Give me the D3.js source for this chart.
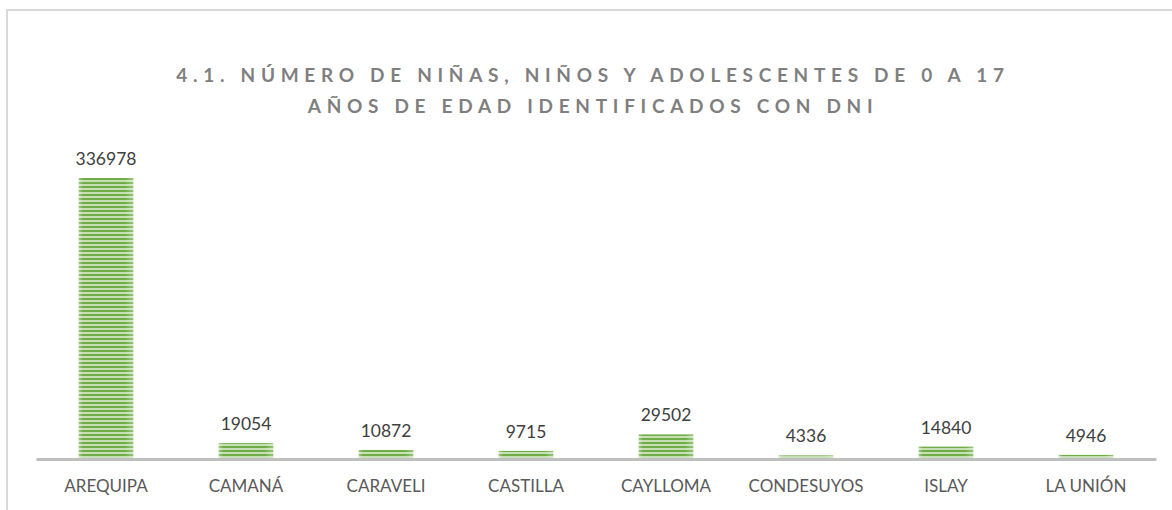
<!DOCTYPE html>
<html>
<head>
<meta charset="utf-8">
<script src="https://cdn.jsdelivr.net/npm/d3@7"></script>
<style>
  body { margin: 0; background: #fff; }
  svg { display: block; }
</style>
</head>
<body>
<svg id="chart" width="1172" height="510"></svg>
<script>
// Chart data
const provinces = ["AREQUIPA", "CAMANÁ", "CARAVELI", "CASTILLA", "CAYLLOMA", "CONDESUYOS", "ISLAY", "LA UNIÓN"];
const counts = [336978, 19054, 10872, 9715, 29502, 4336, 14840, 4946];
const titleLines = ["4.1. NÚMERO DE NIÑAS, NIÑOS Y ADOLESCENTES DE 0 A 17", "AÑOS DE EDAD IDENTIFICADOS CON DNI"];

const svg = d3.select("#chart");
const font = "Lato, 'Open Sans', sans-serif";

// Outer chart frame (right side runs off the page)
svg.append("rect")
  .attr("x", 7).attr("y", 10)
  .attr("width", 1180).attr("height", 520)
  .attr("fill", "#fff")
  .attr("stroke", "#d9d9d9")
  .attr("stroke-width", 2);

// Striped fill pattern for the bars
const defs = svg.append("defs");
const pat = defs.append("pattern")
  .attr("id", "stripes")
  .attr("patternUnits", "userSpaceOnUse")
  .attr("width", 8).attr("height", 4);
pat.append("rect").attr("width", 8).attr("height", 4).attr("fill", "#c5e0b4");
pat.append("rect").attr("y", 2).attr("width", 8).attr("height", 2).attr("fill", "#70ad47");

const edge = defs.append("linearGradient").attr("id", "edges");
[[0, 0.35], [0.08, 0], [0.85, 0], [1, 0.3]].forEach(([o, a]) =>
  edge.append("stop").attr("offset", o).attr("stop-color", "#fff").attr("stop-opacity", a));

// Scales
const x = d3.scaleBand()
  .domain(provinces)
  .range([36, 1156])
  .paddingInner(0.61)
  .paddingOuter(0.305);

const y = d3.scaleLinear()
  .domain([0, 400000])
  .range([459, 459 - 281 * 400000 / 336978]);

// Title
svg.append("text")
  .attr("text-anchor", "middle")
  .attr("fill", "#7f7f7f")
  .style("font-family", font)
  .style("font-size", "19px")
  .style("font-weight", "bold")
  .style("letter-spacing", "5.7px")
  .selectAll("tspan")
  .data(titleLines)
  .join("tspan")
  .attr("x", 593)
  .attr("y", (d, i) => 82 + i * 31)
  .text(d => d);

// Bars
const bars = svg.append("g");
provinces.forEach((p, i) => {
  const top = y(counts[i]);
  bars.append("rect")
    .attr("x", x(p)).attr("y", top)
    .attr("width", x.bandwidth()).attr("height", y(0) - top)
    .attr("fill", "url(#stripes)");
  bars.append("rect")
    .attr("x", x(p)).attr("y", top)
    .attr("width", x.bandwidth()).attr("height", y(0) - top)
    .attr("fill", "url(#edges)");
});

// Value labels
svg.append("g")
  .selectAll("text")
  .data(provinces)
  .join("text")
  .attr("x", d => x(d) + x.bandwidth() / 2)
  .attr("y", (d, i) => y(counts[i]) - 13)
  .attr("text-anchor", "middle")
  .attr("fill", "#404040")
  .style("font-family", font)
  .style("font-size", "17.5px")
  .text((d, i) => counts[i]);

// X axis
const xAxis = svg.append("g")
  .attr("transform", `translate(0, ${ y(0) })`)
  .call(d3.axisBottom(x).tickSize(0).tickPadding(21));
xAxis.select(".domain").attr("stroke", "#bfbfbf").attr("stroke-width", 3);
xAxis.selectAll("text")
  .attr("fill", "#595959")
  .style("font-family", font)
  .style("font-size", "17px");
</script>
</body>
</html>
